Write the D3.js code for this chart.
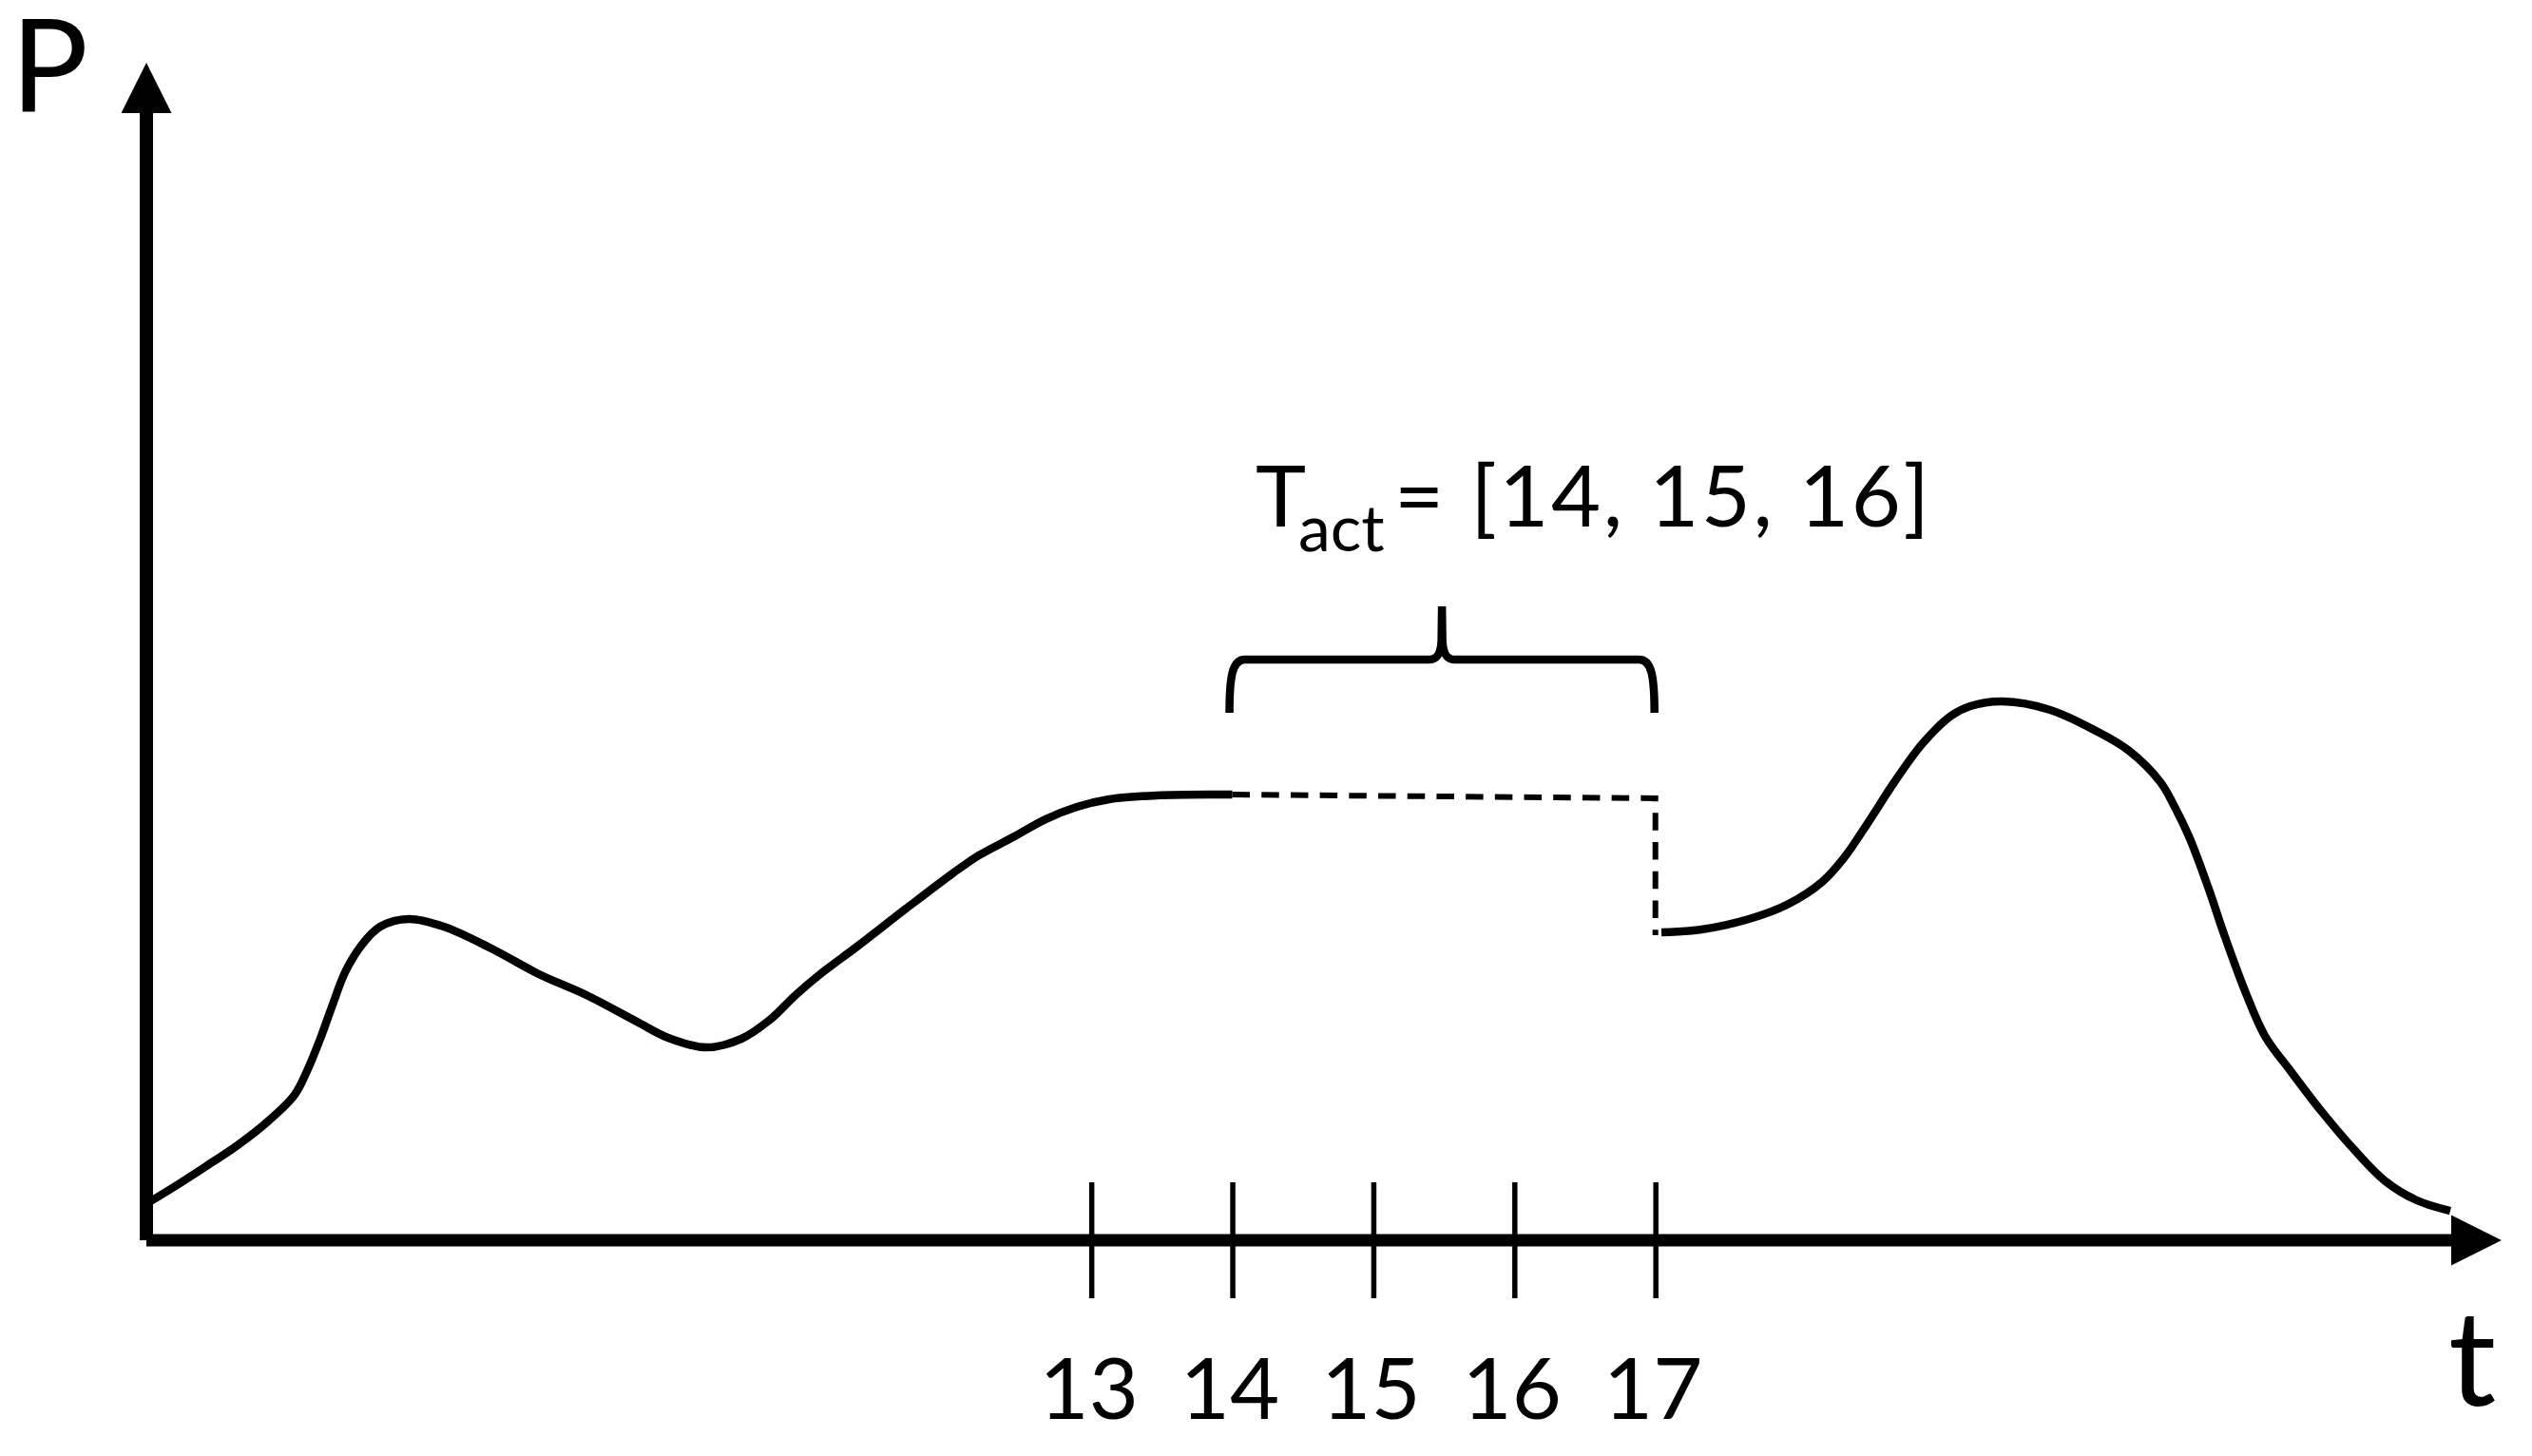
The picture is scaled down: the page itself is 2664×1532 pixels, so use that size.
<!DOCTYPE html>
<html><head><meta charset="utf-8">
<script src="https://cdn.jsdelivr.net/npm/d3@7"></script>
<style>html,body{margin:0;padding:0;background:#fff;} svg{display:block;}</style>
</head><body>
<svg id="chart" width="2664" height="1532"></svg>
<script>
// ---- data (t, P) ----
const tickValues = [13, 14, 15, 16, 17];
const activeTimes = [14, 15, 16];
const activeLabelMain = "T";
const activeLabelSub = "act";
const axisLabelY = "P";
const axisLabelX = "t";

const curveBefore = [
  [6.30,0.31],[6.495,0.452],[6.725,0.630],[6.947,0.807],[7.169,1.017],[7.351,1.235],
  [7.439,1.437],[7.533,1.711],[7.621,2.002],[7.709,2.276],[7.823,2.502],[7.958,2.663],
  [8.160,2.728],[8.409,2.663],[8.746,2.478],[9.083,2.260],[9.420,2.082],[9.778,1.856],
  [10.000,1.719],[10.270,1.638],[10.519,1.711],[10.721,1.872],[10.903,2.082],[11.078,2.260],
  [11.348,2.502],[11.685,2.815],[12.022,3.120],[12.204,3.269],[12.440,3.420],[12.675,3.575],
  [12.898,3.680],[13.127,3.745],[13.464,3.777],[14.0,3.785]
];
const gapLine = [[14.0,3.785],[17.0,3.753],[17.0,2.59]];
const curveAfter = [
  [17.043,2.615],[17.326,2.639],[17.663,2.728],[17.932,2.849],[18.182,3.043],[18.336,3.245],
  [18.519,3.567],[18.694,3.890],[18.896,4.221],[19.098,4.455],[19.233,4.536],[19.462,4.576],
  [19.799,4.504],[20.136,4.318],[20.358,4.157],[20.581,3.890],[20.675,3.697],[20.783,3.430],
  [20.918,3.002],[21.032,2.599],[21.187,2.098],[21.322,1.735],[21.504,1.437],[21.726,1.090],
  [21.956,0.767],[22.178,0.500],[22.400,0.339],[22.636,0.250]
];
// brace levels (P units)
const braceTipP = 4.479, braceBarP = 4.931, bracePeakP = 5.383;

// ---- scales ----
const svg = d3.select("#chart");
const x = d3.scaleLinear().domain([6.3, 23]).range([154, 2632]);
const y = d3.scaleLinear().domain([0, 10]).range([1305, 66]);
const FONT = "Lato, 'Open Sans', sans-serif";

const x0 = x.range()[0], xEnd = x.range()[1];
const y0 = y.range()[0], yTop = y.range()[1];
const AH = 53, AW = 26.5;

// y axis
svg.append("line").attr("x1", x0).attr("x2", x0).attr("y1", y0).attr("y2", yTop + AH - 2)
  .attr("stroke", "#000").attr("stroke-width", 14);
svg.append("path").attr("d", `M${x0},${yTop} L${x0-AW},${yTop+AH} L${x0+AW},${yTop+AH} Z`).attr("fill", "#000");
// x axis line
svg.append("line").attr("x1", x0).attr("x2", xEnd - AH + 2).attr("y1", y0).attr("y2", y0)
  .attr("stroke", "#000").attr("stroke-width", 13);
svg.append("path").attr("d", `M${xEnd},${y0} L${xEnd-AH},${y0-AW} L${xEnd-AH},${y0+AW} Z`).attr("fill", "#000");

// ticks via d3 axis
const axisG = svg.append("g").attr("transform", `translate(0,${y0})`)
  .call(d3.axisBottom(x).tickValues(tickValues).tickFormat(d3.format("d")).tickSize(0));
axisG.select(".domain").remove();
axisG.selectAll(".tick line").attr("y1", -61).attr("y2", 61).attr("stroke", "#000").attr("stroke-width", 5.5);
axisG.selectAll(".tick text").attr("y", 188).attr("dy", null).attr("x", -3)
  .attr("font-family", FONT).attr("font-size", 90).attr("fill", "#000");

// curve
const line = d3.line().x(d => x(d[0])).y(d => y(d[1])).curve(d3.curveCatmullRom.alpha(0.5));
svg.append("path").attr("d", line(curveBefore)).attr("fill", "none").attr("stroke", "#000").attr("stroke-width", 8.5);
svg.append("path").attr("d", line(curveAfter)).attr("fill", "none").attr("stroke", "#000").attr("stroke-width", 8.5);
const lin = d3.line().x(d => x(d[0])).y(d => y(d[1]));
svg.append("path").attr("d", lin(gapLine)).attr("fill", "none").attr("stroke", "#000")
  .attr("stroke-width", 6).attr("stroke-dasharray", "18.5 12.2");

// brace over active times (from first active to one past last)
const bL = x(activeTimes[0]) - 3, bR = x(activeTimes[activeTimes.length-1] + 1) - 1;
const bM = (bL + bR) / 2;
const yb = y(braceTipP), yh = y(braceBarP), yp = y(bracePeakP);
const bp = d3.path();
bp.moveTo(bL, yb);
bp.bezierCurveTo(bL, yh + 18, bL + 3, yh, bL + 16, yh);
bp.lineTo(bM - 14, yh);
bp.bezierCurveTo(bM - 4, yh, bM - 1, yh - 8, bM - 0.5, yh - 20);
bp.lineTo(bM, yp);
bp.lineTo(bM + 0.5, yh - 20);
bp.bezierCurveTo(bM + 1, yh - 8, bM + 4, yh, bM + 14, yh);
bp.lineTo(bR - 16, yh);
bp.bezierCurveTo(bR - 3, yh, bR, yh + 18, bR, yb);
svg.append("path").attr("d", bp.toString()).attr("fill", "none").attr("stroke", "#000").attr("stroke-width", 8.5);

// label T_act = [14, 15, 16]
const lab = svg.append("text").attr("font-family", FONT).attr("fill", "#000").attr("font-size", 90);
lab.append("tspan").attr("x", 1321).attr("y", 554).text(activeLabelMain);
lab.append("tspan").attr("x", 1366).attr("y", 580).attr("font-size", 68).text(activeLabelSub);
lab.append("tspan").attr("x", 1467).attr("y", 554).attr("letter-spacing", 2.5)
  .text("= [" + activeTimes.join(", ") + "]");

// axis labels
svg.append("text").attr("x", 52).attr("y", 117).attr("text-anchor", "middle")
  .attr("font-family", FONT).attr("font-size", 136).attr("fill", "#000").text(axisLabelY);
svg.append("text").attr("x", 2601).attr("y", 1479).attr("text-anchor", "middle")
  .attr("font-family", FONT).attr("font-size", 140).attr("fill", "#000").text(axisLabelX);
</script>
</body></html>
